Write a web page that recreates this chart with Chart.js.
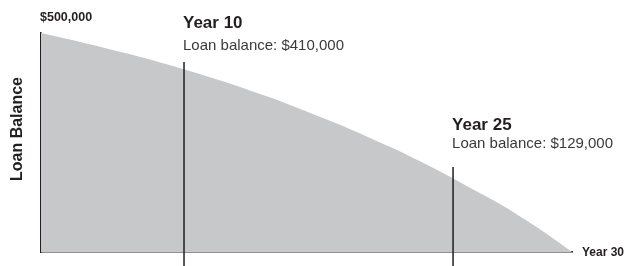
<!DOCTYPE html>
<html lang="en">
<head>
<meta charset="UTF-8">
<title>Loan Balance</title>
<style>
  html, body { margin: 0; padding: 0; background: #fff; }
  #wrap { width: 627px; height: 266px; position: relative; }
</style>
</head>
<body>
<div id="wrap"><canvas id="chart"></canvas></div>
<script src="https://cdn.jsdelivr.net/npm/chart.js"></script>
<script>
// yearly loan balance
const years = [0,1,2,3,4,5,6,7,8,9,10,11,12,13,14,15,16,17,18,19,20,21,22,23,24,25,26,27,28,29,30];
const balances = [500000,491000,482000,472000,462000,452000,441000,430000,418000,406000,393000,380000,366000,352000,337000,321000,305000,289000,271000,253000,235000,215000,195000,174000,152000,130000,108000,83000,57000,29000,0];

// marker lines (position along the x axis as drawn, top of the line)
const markerX = [8.08, 23.28];
const markerTop = [434000, 194000];
const markerBottom = -32000;
const markerTitles = ['Year 10', 'Year 25'];
const markerNotes = ['Loan balance: $410,000', 'Loan balance: $129,000'];

const yAxisLabel = 'Loan Balance';
const yTopLabel = '$500,000';
const xEndLabel = 'Year 30';

const INK = '#231f20';
const FONT = '"Liberation Sans", Arial, sans-serif';

const areaData = years.map((y, i) => ({ x: y, y: balances[i] }));
const markerSets = markerX.map((mx, i) => ({
  data: [{ x: mx, y: markerBottom }, { x: mx, y: markerTop[i] }],
  borderColor: INK,
  borderWidth: 1.5,
  pointRadius: 0,
  fill: false,
  clip: false,
  order: 1
}));

const labelsPlugin = {
  id: 'labels',
  afterDraw(chart) {
    const ctx = chart.ctx;
    const xs = chart.scales.x, ys = chart.scales.y;
    ctx.save();
    ctx.textBaseline = 'middle';
    ctx.textAlign = 'left';

    // top value label
    ctx.fillStyle = INK;
    ctx.font = 'bold 12.5px ' + FONT;
    ctx.fillText(yTopLabel, xs.left - 1, ys.getPixelForValue(500000) - 15);

    // end of x axis
    ctx.font = 'bold 12px ' + FONT;
    ctx.fillText(xEndLabel, xs.right + 10, ys.bottom + 1);

    // marker captions
    const titleY = [23.5, 125];
    const noteY = [45.5, 144];
    markerX.forEach((mx, i) => {
      const px = xs.getPixelForValue(mx) - 1;
      ctx.fillStyle = INK;
      ctx.font = 'bold 17px ' + FONT;
      ctx.fillText(markerTitles[i], px, titleY[i]);
      ctx.fillStyle = '#3a3a3a';
      ctx.font = '15px ' + FONT;
      ctx.fillText(markerNotes[i], px, noteY[i]);
    });

    // rotated axis title
    ctx.translate(18, 129);
    ctx.rotate(-Math.PI / 2);
    ctx.textAlign = 'center';
    ctx.fillStyle = INK;
    ctx.font = 'bold 16px ' + FONT;
    ctx.fillText(yAxisLabel, 0, 0);
    ctx.restore();
  }
};

new Chart(document.getElementById('chart'), {
  type: 'line',
  data: {
    datasets: [
      {
        data: areaData,
        backgroundColor: '#c6c8ca',
        borderWidth: 0,
        pointRadius: 0,
        fill: 'origin',
        cubicInterpolationMode: 'monotone',
        order: 2
      },
      ...markerSets
    ]
  },
  options: {
    responsive: true,
    maintainAspectRatio: false,
    animation: false,
    layout: { padding: { left: 41, top: 33, right: 55, bottom: 14 } },
    plugins: { legend: { display: false }, tooltip: { enabled: false } },
    scales: {
      x: {
        type: 'linear', min: 0, max: 30, z: 1,
        ticks: { display: false },
        grid: { display: false, drawTicks: false },
        border: { display: true, color: INK, width: 1.5 },
        afterFit: s => { s.height = 0; }
      },
      y: {
        min: 0, max: 500000, z: 1,
        ticks: { display: false },
        grid: { display: false, drawTicks: false },
        border: { display: true, color: INK, width: 1.5 },
        afterFit: s => { s.width = 0; }
      }
    }
  },
  plugins: [labelsPlugin]
});
</script>
</body>
</html>
